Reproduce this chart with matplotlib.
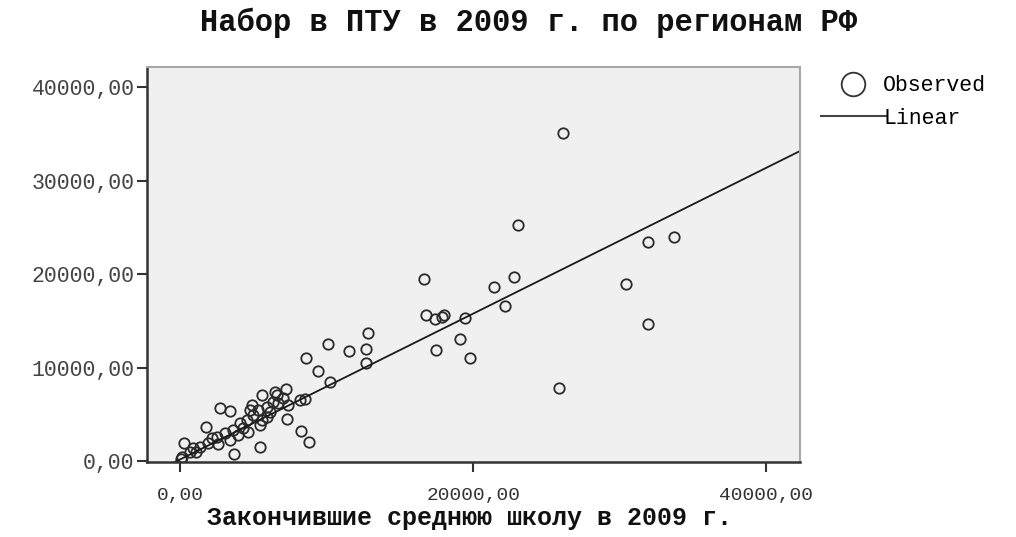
import matplotlib
matplotlib.use("Agg")
import matplotlib.pyplot as plt
import numpy as np
from matplotlib.lines import Line2D

# graduates of secondary school (x) vs. vocational school intake (y), 2009
school_grads = [
    26100, 23050, 16680, 22820, 21390, 22140, 16770, 17410, 17860, 18020,
    19450, 19110, 17450, 19800, 30420, 31900, 33670, 31900, 25890,
    12850, 10120, 11560, 12700, 8600, 9440, 12700, 10240, 7240, 8190,
    8530, 7280, 8240, 8830,
    5580, 6600, 4890, 2730, 3410, 1750, 5460, 3690, 290, 910,
    120, 60, 2500, 3070, 3640, 4100, 4550, 5000, 5340, 5920,
    6370, 6710, 1930, 1370, 680, 5460, 4320, 5920, 3410, 6140,
    7030, 7370, 3960, 2180, 4780, 1090, 6480, 2590, 5600, 4640,
]
vocational_intake = [
    35050, 25200, 19430, 19710, 18640, 16610, 15620, 15150, 15430, 15610,
    15260, 13050, 11870, 11050, 18960, 23450, 23990, 14620, 7780,
    13720, 12480, 11800, 11980, 11050, 9660, 10450, 8480, 7670, 6520,
    6630, 4490, 3210, 2060,
    7060, 7060, 5990, 5640, 5380, 3670, 1530, 750, 1890, 1360,
    460, 210, 2600, 2960, 3320, 4030, 4390, 4920, 5450, 5810,
    6340, 6170, 1890, 1530, 990, 3850, 3500, 4740, 2250, 5240,
    6740, 5990, 2780, 2460, 5450, 960, 7380, 1820, 4390, 3100,
]

# linear fit as shown on the chart
fit_intercept = 165
fit_slope = 0.78

x_ticks = [0, 20000, 40000]
y_ticks = [0, 10000, 20000, 30000, 40000]
x_limits = (-2250, 42300)
y_limits = (-100, 42150)

title = "Набор в ПТУ в 2009 г. по регионам РФ"
x_label = "Закончившие среднюю школу в 2009 г."

mono = ["Liberation Mono", "DejaVu Sans Mono"]

fig = plt.figure(figsize=(10.16, 5.37), dpi=100)
ax = fig.add_axes([0.1447, 0.1397, 0.6427, 0.7356])
ax.set_facecolor("#f0f0f0")

ax.plot(school_grads, vocational_intake, linestyle="none", marker="o",
        markersize=7.5, markerfacecolor="none", markeredgecolor="#2a2a2a",
        markeredgewidth=1.3)

line_x = np.array(x_limits)
ax.plot(line_x, fit_intercept + fit_slope * line_x, color="#1a1a1a", linewidth=1.3)

ax.set_xlim(*x_limits)
ax.set_ylim(*y_limits)

ax.set_xticks(x_ticks)
ax.set_xticklabels([f"{v:.2f}".replace(".", ",") for v in x_ticks],
                   family=mono, fontsize=14, color="#333333")
ax.set_yticks(y_ticks)
ax.set_yticklabels([f"{v:.2f}".replace(".", ",") for v in y_ticks],
                   family=mono, fontsize=15.5, color="#444444")
ax.tick_params(axis="x", length=7, width=1.5, color="#333333", pad=11)
ax.tick_params(axis="y", length=7, width=1.5, color="#333333", pad=2)

for side in ("left", "bottom"):
    ax.spines[side].set_color("#333333")
    ax.spines[side].set_linewidth(1.8)
for side in ("top", "right"):
    ax.spines[side].set_color("#a8a8a8")
    ax.spines[side].set_linewidth(1.5)

fig.text(0.52, 0.958, title, ha="center", va="center",
         family=mono, fontsize=22, fontweight="bold", color="#111111")
fig.text(0.462, 0.036, x_label, ha="center", va="center",
         family=mono, fontsize=18, fontweight="bold", color="#111111")

handles = [
    Line2D([], [], linestyle="none", marker="o", markersize=17,
           markerfacecolor="none", markeredgecolor="#333333", markeredgewidth=1.3),
    Line2D([], [], color="#444444", linewidth=1.5),
]
fig.legend(handles, ["Observed", "Linear"], loc="upper left",
           bbox_to_anchor=(0.808, 0.86), frameon=False,
           prop={"family": mono, "size": 15.5}, handlelength=3.0,
           handletextpad=-0.1, labelspacing=0.55, borderpad=0, borderaxespad=0)

fig.savefig("out.png", dpi=100)
